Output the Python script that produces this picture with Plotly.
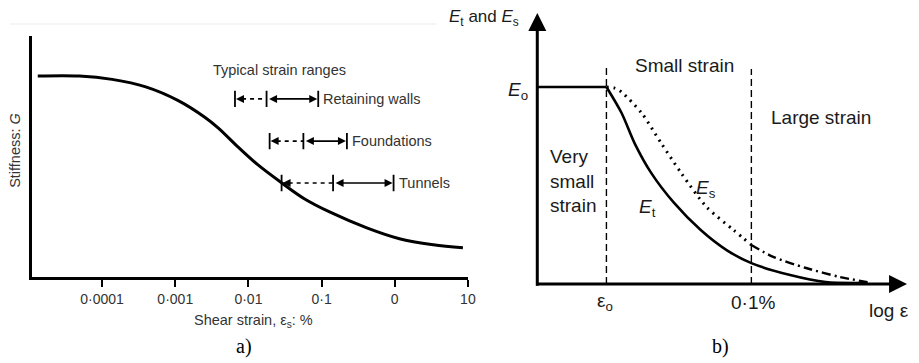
import numpy as np
import plotly.graph_objects as go

W, H = 919, 363

# ---------------- Panel a) data ----------------
strain_pct = [1.32e-5, 4.9e-5, 1.37e-4, 3.95e-4, 1.10e-3, 2.56e-3, 3.85e-3, 7.18e-3,
              0.0134, 0.0275, 0.058, 0.131, 0.415, 1.16, 3.36, 8.55]
stiffness_G = [83.4, 83.4, 82.0, 78.9, 73.2, 66.2, 61.9, 54.0,
               46.6, 39.4, 32.5, 26.9, 20.4, 15.9, 13.4, 12.1]

tick_vals_a = [1e-4, 1e-3, 1e-2, 1e-1, 1, 10]
tick_text_a = ["0·0001", "0·001", "0·01", "0·1", "0", "10"]

range_names = ["Retaining walls", "Foundations", "Tunnels"]
range_low = [0.00655, 0.0195, 0.0284]     # left end of dashed part
range_mid = [0.0177, 0.0564, 0.1436]      # start of solid part
range_high = [0.090, 0.222, 0.964]        # right end
range_level = [73.9, 56.4, 39.0]

# ---------------- Panel b) data ----------------
E0_level = 72.7
eps0_pos = 18.7
pct01_pos = 57.9
Et_x = [18.7, 22.8, 26.3, 30.8, 37.0, 44.2, 51.2, 57.9, 68.4, 78.0, 89.3]
Et_y = [72.7, 63.1, 52.0, 41.0, 29.9, 19.9, 12.5, 7.7, 3.3, 0.7, 0.4]
Es_x = [18.7, 20.9, 22.8, 28.2, 33.5, 38.9, 45.8, 53.1, 57.9]
Es_y = [72.7, 72.3, 70.8, 63.1, 52.0, 41.0, 28.4, 19.9, 14.4]
Es_tail_x = [57.9, 63.8, 72.7, 81.8, 89.3]
Es_tail_y = [14.4, 10.0, 5.9, 2.6, 0.7]

fig = go.Figure()

# ---- panel a curve ----
fig.add_trace(go.Scatter(x=strain_pct, y=stiffness_G, mode="lines",
                         line=dict(color="black", width=3, shape="spline", smoothing=1.0),
                         xaxis="x", yaxis="y", showlegend=False, hoverinfo="skip"))

BAR = 3.4
for lo, mid, hi, lev in zip(range_low, range_mid, range_high, range_level):
    bx, by = [], []
    for v in (lo, mid, hi):
        bx += [v, v, None]
        by += [lev - BAR, lev + BAR, None]
    fig.add_trace(go.Scatter(x=bx, y=by, mode="lines", line=dict(color="black", width=1.8),
                             xaxis="x", yaxis="y", showlegend=False, hoverinfo="skip"))
    # dashed part
    fig.add_trace(go.Scatter(x=[lo * 1.25, mid], y=[lev, lev], mode="lines",
                             line=dict(color="black", width=1.6, dash="4px,4px"),
                             xaxis="x", yaxis="y", showlegend=False, hoverinfo="skip"))

ann = []
txt_a = dict(family="Liberation Sans, Arial, sans-serif", size=14.5, color="#333")
for name, lo, mid, hi, lev in zip(range_names, range_low, range_mid, range_high, range_level):
    # left arrowhead of dashed part
    ann.append(dict(x=np.log10(lo), y=lev, xref="x", yref="y", ax=9, ay=0, text="",
                    showarrow=True, arrowhead=2, arrowsize=1.0, arrowwidth=1.6,
                    arrowcolor="black", standoff=1))
    # solid double arrow
    ann.append(dict(x=np.log10(hi), y=lev, xref="x", yref="y",
                    ax=np.log10(mid), ay=lev, axref="x", ayref="y", text="",
                    showarrow=True, arrowhead=2, startarrowhead=2, arrowside="end+start",
                    arrowsize=1.0, startarrowsize=1.0, arrowwidth=1.6, arrowcolor="black",
                    standoff=1, startstandoff=1))
    ann.append(dict(x=np.log10(hi), y=lev, xref="x", yref="y", text=name, showarrow=False,
                    xanchor="left", yanchor="middle", xshift=3, font=txt_a))

ann.append(dict(x=np.log10(0.0266), y=85.9, xref="x", yref="y", text="Typical strain ranges",
                showarrow=False, xanchor="center", yanchor="middle", font=txt_a))
ann.append(dict(x=15 / W, y=1 - 150 / H, xref="paper", yref="paper", text="Stiffness: <i>G</i>",
                textangle=-90, showarrow=False, xanchor="center", yanchor="middle", font=txt_a))
ann.append(dict(x=256 / W, y=1 - 321 / H, xref="paper", yref="paper",
                text="Shear strain, ε<sub>s</sub>: %", showarrow=False,
                xanchor="center", yanchor="middle", font=txt_a))
serif = dict(family="Liberation Serif, Times New Roman, serif", size=20, color="black")
ann.append(dict(x=246 / W, y=1 - 346 / H, xref="paper", yref="paper", text="a)",
                showarrow=False, xanchor="center", yanchor="middle", font=serif))
ann.append(dict(x=727 / W, y=1 - 346 / H, xref="paper", yref="paper", text="b)",
                showarrow=False, xanchor="center", yanchor="middle", font=serif))

# ---- panel b ----
fig.add_trace(go.Scatter(x=[0, eps0_pos], y=[E0_level, E0_level], mode="lines",
                         line=dict(color="black", width=2.6), xaxis="x2", yaxis="y2",
                         showlegend=False, hoverinfo="skip"))
fig.add_trace(go.Scatter(x=[eps0_pos, eps0_pos], y=[0, 80.5], mode="lines",
                         line=dict(color="black", width=1.4, dash="7px,4px"), xaxis="x2", yaxis="y2",
                         showlegend=False, hoverinfo="skip"))
fig.add_trace(go.Scatter(x=[pct01_pos, pct01_pos], y=[0, 79.3], mode="lines",
                         line=dict(color="black", width=1.4, dash="7px,4px"), xaxis="x2", yaxis="y2",
                         showlegend=False, hoverinfo="skip"))
fig.add_trace(go.Scatter(x=Et_x, y=Et_y, mode="lines",
                         line=dict(color="black", width=2.6, shape="spline", smoothing=0.8),
                         xaxis="x2", yaxis="y2", showlegend=False, hoverinfo="skip"))
fig.add_trace(go.Scatter(x=Es_x, y=Es_y, mode="lines",
                         line=dict(color="black", width=3, shape="spline", smoothing=0.8, dash="2px,5px"),
                         xaxis="x2", yaxis="y2", showlegend=False, hoverinfo="skip"))
fig.add_trace(go.Scatter(x=Es_tail_x, y=Es_tail_y, mode="lines",
                         line=dict(color="black", width=2.4, shape="spline", smoothing=0.8,
                                   dash="9px,4px,2px,4px"),
                         xaxis="x2", yaxis="y2", showlegend=False, hoverinfo="skip"))

# axes with arrows
ann.append(dict(x=0, y=100, xref="x2", yref="y2", ax=0, ay=-1.2, axref="x2", ayref="y2",
                text="", showarrow=True, arrowhead=2, arrowsize=1.2, arrowwidth=3, arrowcolor="black"))
ann.append(dict(x=100, y=0, xref="x2", yref="y2", ax=-0.7, ay=0, axref="x2", ayref="y2",
                text="", showarrow=True, arrowhead=2, arrowsize=1.2, arrowwidth=3, arrowcolor="black"))

txt_b = dict(family="Liberation Sans, Arial, sans-serif", size=19, color="#1a1a1a")
def lab(x, y, t, **kw):
    d = dict(x=x, y=y, xref="x2", yref="y2", text=t, showarrow=False, font=txt_b,
             xanchor="center", yanchor="middle")
    d.update(kw)
    ann.append(d)

lab(39.7, 80.8, "Small strain")
lab(76.7, 61.3, "Large strain")
lab(2.9, 38.0, "Very<br>small<br>strain", xanchor="left", align="left")
lab(45.5, 35.0, "<i>E</i><sub>s</sub>")
lab(29.8, 28.0, "<i>E</i><sub>t</sub>")
lab(-2.0, E0_level - 1.5, "<i>E</i><sub>o</sub>", xanchor="right")
lab(eps0_pos - 0.5, -6.5, "ε<sub>o</sub>")
lab(pct01_pos + 0.5, -7.0, "0·1%")
lab(95.2, -9.6, "log ε")
lab(-14.5, 98.3, "<i>E</i><sub>t</sub> and <i>E</i><sub>s</sub>",
    font=dict(family="Liberation Sans, Arial, sans-serif", size=17, color="#1a1a1a"))

# panel b axis scale: 3.73 px per unit in x, 2.71 px per unit in y (origin at 542, 284)
X2_MIN, Y2_MIN = -25, -20
fig.update_layout(
    width=W, height=H, margin=dict(l=0, r=0, t=0, b=0),
    paper_bgcolor="white", plot_bgcolor="rgba(0,0,0,0)",
    xaxis=dict(type="log", range=[-4.962, 1.0], domain=[32 / W, 472 / W],
               tickvals=tick_vals_a, ticktext=tick_text_a, ticks="outside", ticklen=7,
               tickwidth=2, tickcolor="black", showline=True, linewidth=2.5, linecolor="black",
               showgrid=False, zeroline=False,
               tickfont=dict(family="Liberation Sans, Arial, sans-serif", size=14, color="#333"),
               anchor="y"),
    yaxis=dict(range=[0, 100], domain=[1 - 277 / H, 1 - 36 / H], showline=True, linewidth=2.5,
               linecolor="black", showticklabels=False, ticks="", showgrid=False, zeroline=False,
               anchor="x"),
    xaxis2=dict(range=[X2_MIN, 100], domain=[(542 + X2_MIN * 3.73) / W, 915 / W],
                visible=False, anchor="y2"),
    yaxis2=dict(range=[Y2_MIN, 100], domain=[1 - (284 - Y2_MIN * 2.71) / H, 1 - 13 / H],
                visible=False, anchor="x2"),
    annotations=ann,
    shapes=[dict(type="line", xref="paper", yref="paper", x0=10 / W, x1=440 / W,
                 y0=1 - 24 / H, y1=1 - 24 / H, line=dict(color="#f2f2f2", width=1.5))],
)

fig.write_html("out.html")
